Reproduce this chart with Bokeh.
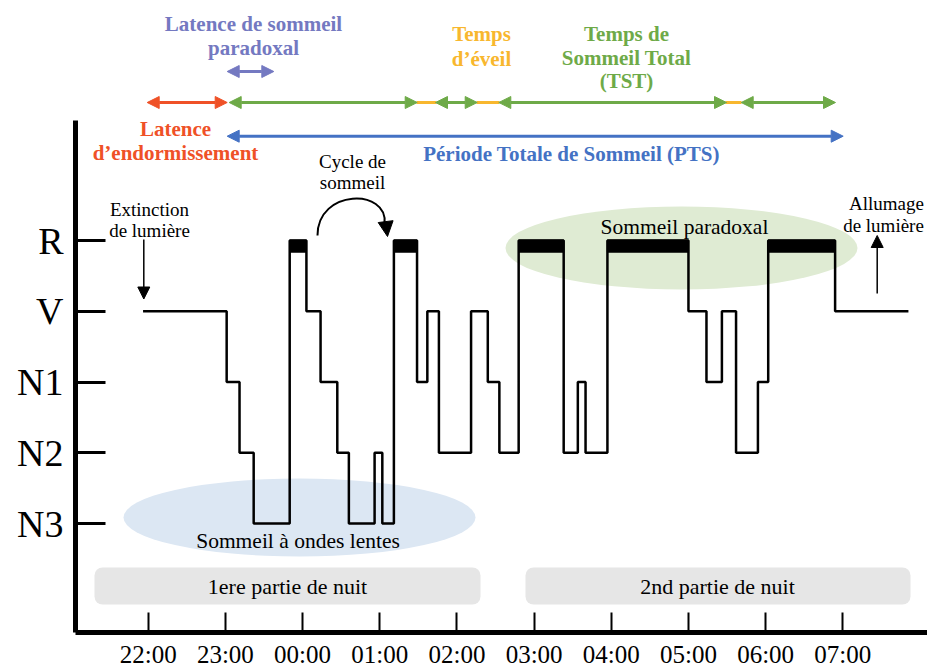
from bokeh.plotting import figure
from bokeh.models import FixedTicker, Range1d, Arrow, NormalHead, BoxAnnotation
from bokeh.core.properties import value
from bokeh.embed import file_html
from bokeh.resources import INLINE

# ---------------- data ----------------
stage_labels = ["N3", "N2", "N1", "V", "R"]
time_tick_labels = ["22:00", "23:00", "00:00", "01:00", "02:00",
                    "03:00", "04:00", "05:00", "06:00", "07:00"]
segment_start = ["21:56", "23:01", "23:11", "23:22", "23:50", "00:03", "00:14",
                 "00:27", "00:36", "00:56", "01:02", "01:11", "01:29", "01:37",
                 "01:46", "02:11", "02:24", "02:33", "02:48", "03:23", "03:34",
                 "03:40", "03:57", "05:00", "05:14", "05:26", "05:37", "05:54",
                 "06:02", "06:54"]
segment_stage = ["V", "N1", "N2", "N3", "R", "V", "N1", "N2", "N3", "N2", "N3",
                 "R", "N1", "V", "N2", "V", "N1", "N2", "R", "N2", "N1", "N2",
                 "R", "V", "N1", "V", "N2", "N1", "R", "V"]
recording_end = "07:51"
part_labels = ["1ere partie de nuit", "2nd partie de nuit"]


def clock(s):
    h, m = map(int, s.split(":"))
    t = h + m / 60.0
    return t + 24 if t < 12 else t


level = {s: i + 1 for i, s in enumerate(stage_labels)}
xs = [clock(t) for t in segment_start] + [clock(recording_end)]
ys = [level[s] for s in segment_stage] + [level[segment_stage[-1]]]
ends = xs[1:]
rem_left = [xs[i] for i, s in enumerate(segment_stage) if s == "R"]
rem_right = [ends[i] for i, s in enumerate(segment_stage) if s == "R"]
R = level["R"]


# ------------- layout helpers (picture pixels -> data) -------------
def X(px):
    return 22 + (px - 147.7) / 77.18


def Y(py):
    return 5 - (py - 240) / 70.75


SERIF = "Liberation Serif"

p = figure(width=927, height=670,
           x_range=Range1d(X(75), X(927)), y_range=Range1d(Y(632), Y(0)),
           output_backend="svg", toolbar_location=None,
           min_border_left=75, min_border_right=0, min_border_top=0,
           min_border_bottom=38)
p.xgrid.visible = False
p.ygrid.visible = False
p.outline_line_color = None
p.background_fill_color = "white"
p.border_fill_color = "white"

# axes
tick_pos = [clock(t) for t in time_tick_labels]
p.xaxis.ticker = FixedTicker(ticks=tick_pos)
p.xaxis.major_label_overrides = {tp: lab for tp, lab in zip(tick_pos, time_tick_labels)}
p.xaxis.axis_line_width = 5
p.xaxis.axis_line_color = "black"
p.xaxis.major_tick_in = 20
p.xaxis.major_tick_out = 0
p.xaxis.major_tick_line_width = 2
p.xaxis.minor_tick_line_color = None
p.xaxis.major_label_standoff = 8
p.xaxis.major_label_text_font = SERIF
p.xaxis.major_label_text_font_size = "25px"
p.xaxis.major_label_text_color = "black"

p.yaxis.ticker = FixedTicker(ticks=[level[s] for s in stage_labels])
p.yaxis.major_label_overrides = {level[s]: s for s in stage_labels}
p.yaxis.bounds = (Y(632), Y(120))
p.yaxis.axis_line_width = 5
p.yaxis.axis_line_color = "black"
p.yaxis.major_tick_in = 30
p.yaxis.major_tick_out = 0
p.yaxis.major_tick_line_width = 3
p.yaxis.minor_tick_line_color = None
p.yaxis.major_label_standoff = 12
p.yaxis.major_label_text_font = SERIF
p.yaxis.major_label_text_font_size = "38px"
p.yaxis.major_label_text_color = "black"

# background shapes
p.ellipse(x=[X(299)], y=[Y(517)], width=[352 / 77.18], height=[78 / 70.75],
          fill_color="#DCE7F3", line_color=None)
p.ellipse(x=[X(681)], y=[Y(247.5)], width=[352 / 77.18], height=[83 / 70.75],
          fill_color="#DFEBD3", line_color=None)
for l, r in [(94, 480), (525, 910)]:
    p.add_layout(BoxAnnotation(left=X(l), right=X(r), bottom=Y(604), top=Y(567),
                               fill_color="#E6E6E6", fill_alpha=1, line_color=None,
                               border_radius=8, level="underlay"))

# hypnogram
p.step(xs, ys, mode="after", line_color="black", line_width=2.5)
p.quad(left=rem_left, right=rem_right, bottom=R - 0.165, top=R + 0.005,
       fill_color="black", line_color="black")


def txt(items, color, size, bold=False):
    p.text(x=[X(a) for _, a, _ in items], y=[Y(b) for _, _, b in items],
           text=[t for t, _, _ in items], text_color=color,
           text_font=value(SERIF), text_font_size=size,
           text_font_style="bold" if bold else "normal",
           text_align="center", text_baseline="middle")


PURPLE, ORANGE, GREEN, RED, BLUE = "#7479C1", "#F8B72E", "#6EAA48", "#EF5127", "#4472C4"

txt([("Latence de sommeil", 253, 23), ("paradoxal", 253, 47.5)], PURPLE, "21px", True)
txt([("Temps", 481, 33), ("d’éveil", 481, 58)], ORANGE, "21px", True)
txt([("Temps de", 626, 33), ("Sommeil Total", 626, 57), ("(TST)", 626, 80)], GREEN, "21px", True)
txt([("Latence", 175, 128), ("d’endormissement", 175, 152)], RED, "21px", True)
txt([("Période Totale de Sommeil (PTS)", 571, 153)], BLUE, "21px", True)
txt([("Cycle de", 352, 160.5), ("sommeil", 352, 181.5),
     ("Extinction", 149, 209), ("de lumière", 149, 230),
     ("Allumage", 886, 203), ("de lumière", 883, 225)], "black", "19px")
txt([("Sommeil paradoxal", 684, 226.5), ("Sommeil à ondes lentes", 297.5, 540)], "black", "21.5px")
txt([(part_labels[0], 287, 585.5), (part_labels[1], 717, 585.5)], "black", "22px")


def darrow(x0, x1, y, color, size=12):
    p.add_layout(Arrow(start=NormalHead(size=size, fill_color=color, line_color=color),
                       end=NormalHead(size=size, fill_color=color, line_color=color),
                       x_start=X(x0), y_start=Y(y), x_end=X(x1), y_end=Y(y),
                       line_color=color, line_width=3))


def sarrow(x0, y0, x1, y1, color="black", size=12, lw=1.5):
    p.add_layout(Arrow(end=NormalHead(size=size, fill_color=color, line_color=color),
                       x_start=X(x0), y_start=Y(y0), x_end=X(x1), y_end=Y(y1),
                       line_color=color, line_width=lw))


# top row of intervals
p.segment(x0=[X(416), X(476)], y0=[Y(102)] * 2, x1=[X(436), X(499)], y1=[Y(102)] * 2,
          line_color=ORANGE, line_width=3)
p.segment(x0=[X(725)], y0=[Y(102)], x1=[X(741)], y1=[Y(102)], line_color=ORANGE, line_width=3)
darrow(146.7, 226.7, 102, RED)
darrow(228.7, 416.7, 102, GREEN)
darrow(435, 476.7, 102, GREEN)
darrow(498.3, 726, 102, GREEN)
darrow(740.7, 835, 102, GREEN)
darrow(226.7, 842.7, 135.7, BLUE)
darrow(226.7, 273.3, 71, PURPLE)

# lights off / lights on arrows
sarrow(143.3, 239, 143.3, 298.5)
sarrow(876.7, 293, 876.7, 235)

# sleep-cycle curved arrow
p.bezier(x0=[X(317)], y0=[Y(235)], x1=[X(384)], y1=[Y(223)],
         cx0=[X(317)], cy0=[Y(188)], cx1=[X(388)], cy1=[Y(188)],
         line_color="black", line_width=2)
sarrow(385.5, 224, 387, 236, size=15, lw=2)

open("out.html", "w").write(file_html(p, INLINE))
